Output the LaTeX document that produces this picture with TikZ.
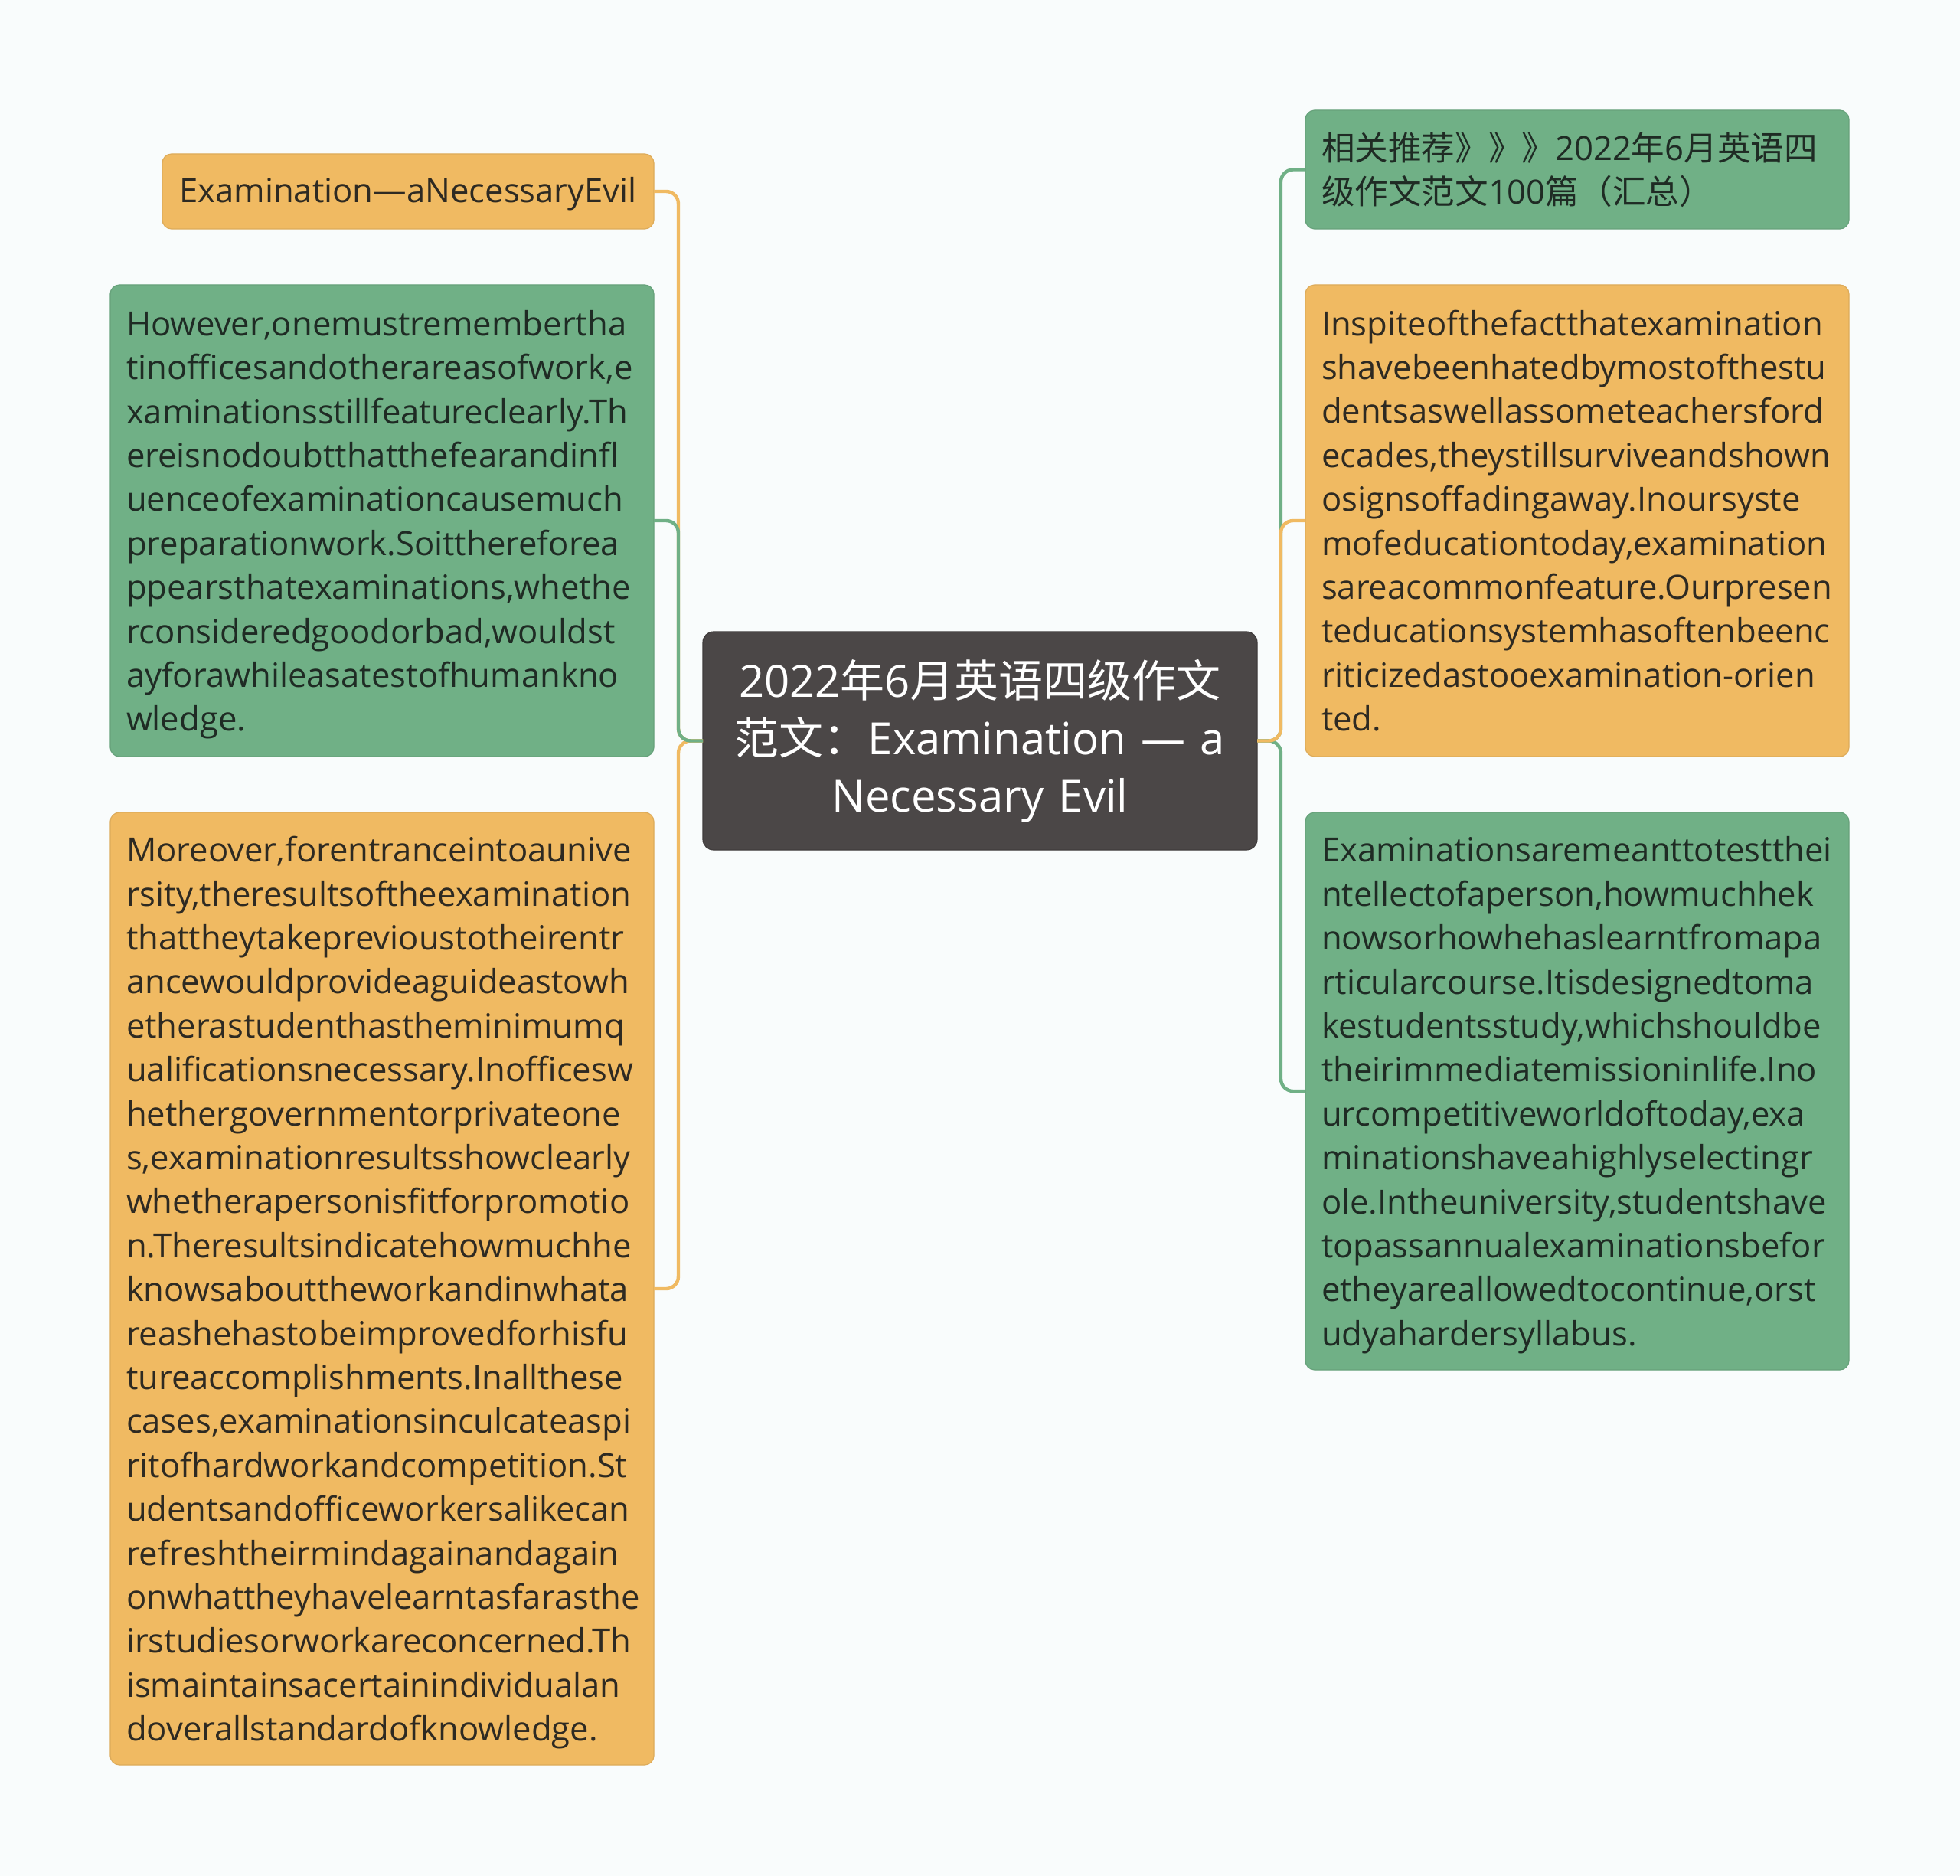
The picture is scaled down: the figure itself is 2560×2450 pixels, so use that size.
\documentclass[tikz,border=0pt]{standalone}
\usepackage{fontspec}
\setmainfont{Open Sans}
\newfontfamily\cjk{Noto Sans CJK SC}
\definecolor{bgc}{HTML}{F9FCFC}
\definecolor{orangec}{HTML}{F0BA62}
\definecolor{greenc}{HTML}{70B086}
\definecolor{darkc}{HTML}{4B4747}
\definecolor{otext}{HTML}{2E2A22}
\definecolor{gtext}{HTML}{1F2B24}
\tikzset{
  basebox/.style={rounded corners=6pt, inner sep=0pt, outer sep=0pt, draw=#1!92!black, line width=0.6pt, fill=#1},
  obox/.style={basebox=orangec, text=otext, font=\fontsize{21.8pt}{28.7pt}\selectfont},
  gbox/.style={basebox=greenc, text=gtext, font=\fontsize{21.8pt}{28.7pt}\selectfont},
  para/.style={minimum width=355pt, text width=334pt, align=left, inner xsep=10.5pt},
  rootbox/.style={rounded corners=7pt, fill=darkc, draw=darkc!85!black, line width=0.6pt, text=white, inner sep=0pt, outer sep=0pt, minimum width=362pt, minimum height=142.5pt, text width=350pt, align=center, font=\fontsize{29pt}{37.5pt}\selectfont},
  ocon/.style={draw=orangec, line width=2.2pt, rounded corners=8pt},
  gcon/.style={draw=greenc, line width=2.2pt, rounded corners=8pt}
}
\begin{document}
\begin{tikzpicture}[x=0.5pt,y=-0.5pt]
\fill[bgc] (0,0) rectangle (2560,2450);
\useasboundingbox (0,0) rectangle (2560,2450);

\node[rootbox] (C) at (1280,967.5) {2022{\cjk 年}6{\cjk 月英语四级作文}\\{\cjk 范文：}Examination — a\\Necessary Evil};

\node[obox, minimum width=321pt, minimum height=49pt, text depth=2pt] (L1) at (533,250) {Examination—aNecessaryEvil};

\node[gbox, para, minimum height=308pt] (L2) at (499,680) {However,onemustremembertha\\tinofficesandotherareasofwork,e\\xaminationsstillfeatureclearly.Th\\ereisnodoubtthatthefearandinfl\\uenceofexaminationcausemuch\\preparationwork.Soitthereforea\\ppearsthatexaminations,whethe\\rconsideredgoodorbad,wouldst\\ayforawhileasatestofhumankno\\\smash{wledge.}};

\node[obox, para, minimum height=622pt] (L3) at (499,1683) {Moreover,forentranceintoaunive\\rsity,theresultsoftheexamination\\thattheytakeprevioustotheirentr\\ancewouldprovideaguideastowh\\etherastudenthastheminimumq\\ualificationsnecessary.Inofficesw\\hethergovernmentorprivateone\\s,examinationresultsshowclearly\\whetherapersonisfitforpromotio\\n.Theresultsindicatehowmuchhe\\knowsabouttheworkandinwhata\\reashehastobeimprovedforhisfu\\tureaccomplishments.Inallthese\\cases,examinationsinculcateaspi\\ritofhardworkandcompetition.St\\udentsandofficeworkersalikecan\\refreshtheirmindagainandagain\\onwhattheyhavelearntasfarasthe\\irstudiesorworkareconcerned.Th\\ismaintainsacertainindividualan\\\smash{doverallstandardofknowledge.}};

\node[gbox, para, minimum height=77.5pt] (R1) at (2060,221.5) {{\cjk 相关推荐》》》}2022{\cjk 年}6{\cjk 月英语四}\\{\cjk 级作文范文}100{\cjk 篇（汇总）}};

\node[obox, para, minimum height=308pt] (R2) at (2060,680) {Inspiteofthefactthatexamination\\shavebeenhatedbymostofthestu\\dentsaswellassometeachersford\\ecades,theystillsurviveandshown\\osignsoffadingaway.Inoursyste\\mofeducationtoday,examination\\sareacommonfeature.Ourpresen\\teducationsystemhasoftenbeenc\\riticizedastooexamination-orien\\ted.};

\node[gbox, para, minimum height=364pt] (R3) at (2060,1425) {Examinationsaremeanttotestthei\\ntellectofaperson,howmuchhek\\nowsorhowhehaslearntfromapa\\rticularcourse.Itisdesignedtoma\\kestudentsstudy,whichshouldbe\\theirimmediatemissioninlife.Ino\\urcompetitiveworldoftoday,exa\\minationshaveahighlyselectingr\\ole.Intheuniversity,studentshave\\topassannualexaminationsbefor\\etheyareallowedtocontinue,orst\\\smash{udyahardersyllabus.}};

\path[ocon] (C.west) -- ++(-32,0) |- (L1.east);
\path[ocon] (C.west) -- ++(-32,0) |- (L3.east);
\path[gcon] (C.west) -- ++(-32,0) |- (L2.east);
\path[gcon] (C.east) -- ++(31,0) |- (R1.west);
\path[gcon] (C.east) -- ++(31,0) |- (R3.west);
\path[ocon] (C.east) -- ++(31,0) |- (R2.west);
\end{tikzpicture}
\end{document}
